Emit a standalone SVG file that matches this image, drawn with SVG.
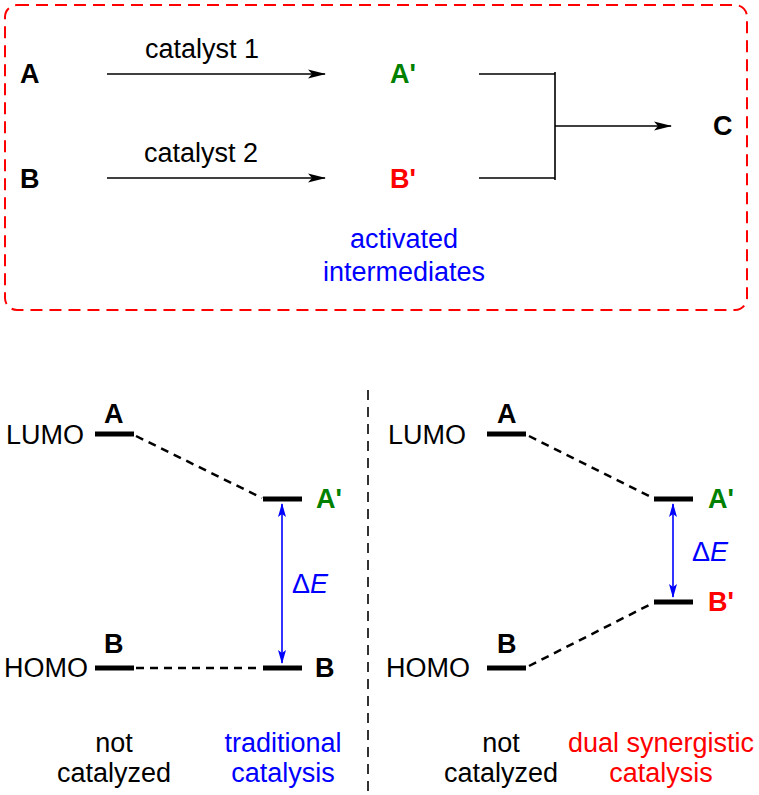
<svg xmlns="http://www.w3.org/2000/svg" width="759" height="795" viewBox="0 0 759 795">
<defs>
<style>
text{font-family:"Liberation Sans",Arial,sans-serif;font-size:27px;fill:#000}
.b{font-weight:bold}
.g{fill:#008000}
.r{fill:#ff0000}
.bl{fill:#0000ff}
.mid{text-anchor:middle}
.ln{stroke:#000;stroke-width:1.6;fill:none}
.bar{stroke:#000;stroke-width:5;fill:none}
.dash{stroke:#000;stroke-width:2.5;stroke-dasharray:8 6;fill:none}
.blu{stroke:#0000ff;stroke-width:1.6;fill:none}
</style>
<marker id="ah" viewBox="0 0 18 10" refX="17" refY="5" markerWidth="18" markerHeight="10" markerUnits="userSpaceOnUse" orient="auto">
<path d="M0,0.5 L18,5 L0,9.5 L4,5 Z" fill="#000"/>
</marker>
<marker id="bh" viewBox="0 0 14 8" refX="13" refY="4" markerWidth="14" markerHeight="8" markerUnits="userSpaceOnUse" orient="auto-start-reverse">
<path d="M0,0 L14,4 L0,8 L3,4 Z" fill="#0000ff"/>
</marker>
</defs>
<rect id="box" x="5" y="5" width="742" height="305" rx="12" ry="12" fill="none" stroke="#ff0000" stroke-width="2" stroke-dasharray="12 7"/>
<g id="connectors">
<line class="ln" x1="107" y1="74" x2="325" y2="74" marker-end="url(#ah)"/>
<line class="ln" x1="107" y1="178" x2="325" y2="178" marker-end="url(#ah)"/>
<path class="ln" d="M479,74 H555 M479,178 H555 M555,72 V180"/>
<line class="ln" x1="555" y1="126" x2="671" y2="126" marker-end="url(#ah)"/>
<line x1="368" y1="390" x2="368" y2="795" stroke="#000" stroke-width="1.6" stroke-dasharray="10 7"/>
<line class="dash" x1="136" y1="436" x2="262" y2="498"/>
<line class="dash" x1="136" y1="668" x2="262" y2="668"/>
<line class="blu" x1="282" y1="504" x2="282" y2="663" marker-start="url(#bh)" marker-end="url(#bh)"/>
<line class="dash" x1="529" y1="436" x2="653" y2="498"/>
<line class="dash" x1="529" y1="666" x2="653" y2="603"/>
<line class="blu" x1="673" y1="504" x2="673" y2="597" marker-start="url(#bh)" marker-end="url(#bh)"/>
</g>
<g id="top">
<g id="nA"><text class="b" x="20" y="83">A</text></g>
<g id="nB"><text class="b" x="20" y="188">B</text></g>
<g id="cat1"><text x="145" y="58">catalyst 1</text></g>
<g id="cat2"><text x="144" y="162">catalyst 2</text></g>
<g id="nA1"><text class="b g" x="390" y="83">A'</text></g>
<g id="nB1"><text class="b r" x="390" y="188">B'</text></g>
<g id="nC"><text class="b" x="713" y="135">C</text></g>
<g id="act"><text class="bl mid" x="404" y="248">activated</text><text class="bl mid" x="404" y="281">intermediates</text></g>
</g>
<g id="left">
<text x="6" y="444">LUMO</text>
<text x="4" y="677">HOMO</text>
<g id="lA"><line class="bar" x1="95" y1="434" x2="134" y2="434"/><text class="b" x="104" y="423">A</text></g>
<g id="lB"><line class="bar" x1="95" y1="668" x2="134" y2="668"/><text class="b" x="104" y="653">B</text></g>
<g id="lA1"><line class="bar" x1="263" y1="499" x2="302" y2="499"/><text class="b g" x="316" y="508">A'</text></g>
<g id="lB2"><line class="bar" x1="263" y1="668" x2="302" y2="668"/><text class="b" x="315" y="677">B</text></g>
<text class="bl" x="292" y="593">Δ<tspan font-style="italic">E</tspan></text>
<text class="mid" x="114" y="752">not</text>
<text class="mid" x="114" y="782">catalyzed</text>
<text class="bl mid" x="283" y="752">traditional</text>
<text class="bl mid" x="283" y="782">catalysis</text>
</g>
<g id="right">
<text x="388" y="444">LUMO</text>
<text x="386" y="677">HOMO</text>
<g id="rA"><line class="bar" x1="487" y1="434" x2="526" y2="434"/><text class="b" x="497" y="423">A</text></g>
<g id="rB"><line class="bar" x1="487" y1="668" x2="526" y2="668"/><text class="b" x="497" y="653">B</text></g>
<g id="rA1"><line class="bar" x1="654" y1="499" x2="693" y2="499"/><text class="b g" x="708" y="508">A'</text></g>
<g id="rB1"><line class="bar" x1="654" y1="602" x2="693" y2="602"/><text class="b r" x="708" y="611">B'</text></g>
<text class="bl" x="692" y="561">Δ<tspan font-style="italic">E</tspan></text>
<text class="mid" x="501" y="752">not</text>
<text class="mid" x="501" y="782">catalyzed</text>
<text class="r mid" x="661" y="752">dual synergistic</text>
<text class="r mid" x="661" y="782">catalysis</text>
</g>
</svg>
